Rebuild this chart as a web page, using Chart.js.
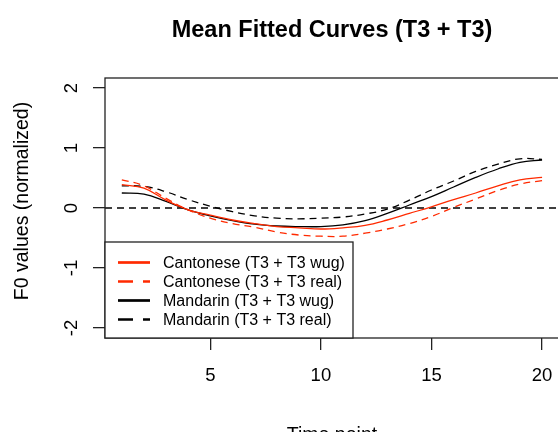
<!DOCTYPE html>
<html>
<head>
<meta charset="utf-8">
<script src="https://cdn.jsdelivr.net/npm/chart.js@4/dist/chart.umd.min.js"></script>
<style>
  html, body { margin: 0; padding: 0; background: #fff; }
  #wrap { width: 558px; height: 432px; }
</style>
</head>
<body>
<div id="wrap"><canvas id="fitChart"></canvas></div>
<script>
// Zeitpunkte und Kurven
const timePoints = [1, 2, 3, 4, 5, 6, 7, 8, 9, 10, 11, 12, 13, 14, 15, 16, 17, 18, 19, 20];
const cantoneseWug = [0.39, 0.33, 0.13, -0.03, -0.12, -0.20, -0.26, -0.31, -0.33, -0.35, -0.33, -0.29, -0.20, -0.09, 0.02, 0.14, 0.25, 0.37, 0.47, 0.51];
const cantoneseReal = [0.47, 0.37, 0.16, -0.03, -0.17, -0.26, -0.32, -0.40, -0.45, -0.47, -0.47, -0.42, -0.35, -0.26, -0.14, 0.01, 0.15, 0.29, 0.40, 0.455];
const mandarinWug = [0.25, 0.23, 0.11, -0.03, -0.13, -0.21, -0.27, -0.30, -0.31, -0.31, -0.28, -0.21, -0.09, 0.05, 0.19, 0.35, 0.51, 0.65, 0.76, 0.80];
const mandarinReal = [0.37, 0.36, 0.27, 0.14, 0.03, -0.06, -0.13, -0.17, -0.18, -0.17, -0.15, -0.10, -0.02, 0.13, 0.30, 0.45, 0.61, 0.73, 0.82, 0.81];
const xTicks = [5, 10, 15, 20];
const yTicks = [-2, -1, 0, 1, 2];
const refLevel = 0;

const RED = '#ff2a00';
const FONT = '"Liberation Sans", Arial, Helvetica, sans-serif';

function toPoints(ys) {
    return timePoints.map((t, i) => ({x: t, y: ys[i]}));
}

const seriesList = [
    {label: 'Cantonese (T3 + T3 wug)', data: cantoneseWug, color: RED, dashed: false},
    {label: 'Cantonese (T3 + T3 real)', data: cantoneseReal, color: RED, dashed: true},
    {label: 'Mandarin (T3 + T3 wug)', data: mandarinWug, color: '#000', dashed: false},
    {label: 'Mandarin (T3 + T3 real)', data: mandarinReal, color: '#000', dashed: true},
];

// Rahmen, Titel, Achsentitel, y-Beschriftung und Legende
const rPlotDeco = {
    id: 'rPlotDeco',
    beforeDatasetsDraw(chart) {
        const {ctx, chartArea: a, scales: {y}} = chart;
        const y0 = y.getPixelForValue(refLevel);
        ctx.save();
        ctx.strokeStyle = '#000';
        ctx.lineWidth = 1.3;
        ctx.setLineDash([7, 5]);
        ctx.beginPath();
        ctx.moveTo(a.left, y0);
        ctx.lineTo(a.right, y0);
        ctx.stroke();
        ctx.restore();
    },
    afterDraw(chart) {
        const {ctx, chartArea: a, scales: {y}} = chart;
        ctx.save();

        // Rahmen (rechte Kante liegt außerhalb des Bildes)
        ctx.strokeStyle = '#222';
        ctx.lineWidth = 1.3;
        ctx.strokeRect(a.left, a.top, a.right - a.left + 4, a.bottom - a.top);

        // Titel
        ctx.fillStyle = '#000';
        ctx.textAlign = 'center';
        ctx.textBaseline = 'alphabetic';
        ctx.font = 'bold 23.5px ' + FONT;
        const midX = (a.left + a.right + 1) / 2;
        ctx.fillText('Mean Fitted Curves (T3 + T3)', midX, 37.3);

        // x-Achsentitel
        ctx.font = '19.5px ' + FONT;
        ctx.fillText('Time point', midX, 440.5);

        // y-Achsentitel
        ctx.save();
        ctx.translate(28, 201);
        ctx.rotate(-Math.PI / 2);
        ctx.fillText('F0 values (normalized)', 0, 0);
        ctx.restore();

        // y-Tickbeschriftungen, gedreht wie in R
        ctx.font = '18.5px ' + FONT;
        y.ticks.forEach(tk => {
            ctx.save();
            ctx.translate(76.5, y.getPixelForValue(tk.value));
            ctx.rotate(-Math.PI / 2);
            ctx.fillText(String(tk.value), 0, 0);
            ctx.restore();
        });

        // Legende
        const box = {left: a.left, top: 242, right: 353, bottom: a.bottom};
        ctx.fillStyle = '#fff';
        ctx.fillRect(box.left, box.top, box.right - box.left, box.bottom - box.top);
        ctx.strokeStyle = '#222';
        ctx.lineWidth = 1.3;
        ctx.strokeRect(box.left, box.top, box.right - box.left, box.bottom - box.top);
        ctx.font = '16px ' + FONT;
        ctx.textAlign = 'left';
        ctx.textBaseline = 'middle';
        seriesList.forEach((s, i) => {
            const rowY = 262.5 + i * 19;
            ctx.strokeStyle = s.color;
            ctx.lineWidth = 2.7;
            ctx.setLineDash(s.dashed ? [15, 10] : []);
            ctx.beginPath();
            ctx.moveTo(118, rowY);
            ctx.lineTo(150, rowY);
            ctx.stroke();
            ctx.setLineDash([]);
            ctx.fillStyle = '#000';
            ctx.fillText(s.label, 163, rowY + 1);
        });
        ctx.restore();
    }
};

const chartData = {
    datasets: seriesList.map(s => ({
        label: s.label,
        data: toPoints(s.data),
        borderColor: s.color,
        borderWidth: 1.3,
        borderDash: s.dashed ? [7, 5] : [],
        pointRadius: 0,
        tension: 0.4,
        fill: false
    }))
};

const config = {
    type: 'line',
    data: chartData,
    options: {
        responsive: true,
        maintainAspectRatio: false,
        animation: false,
        layout: {padding: {top: 78, right: 0, left: 0, bottom: 0}},
        plugins: {
            legend: {display: false},
            title: {display: false},
            tooltip: {enabled: false}
        },
        scales: {
            x: {
                type: 'linear',
                min: 0.24,
                max: 20.72,
                afterBuildTicks: s => { s.ticks = xTicks.map(v => ({value: v})); },
                afterFit: s => { s.height = 94; s.paddingLeft = 0; s.paddingRight = 0; },
                border: {display: false},
                grid: {drawOnChartArea: false, drawTicks: true, tickLength: 12, color: '#222', lineWidth: 1.3},
                ticks: {
                    autoSkip: false,
                    maxRotation: 0,
                    padding: 15,
                    color: '#000',
                    font: {family: FONT, size: 18.5}
                }
            },
            y: {
                type: 'linear',
                min: -2.1667,
                max: 2.1667,
                afterBuildTicks: s => { s.ticks = yTicks.map(v => ({value: v})); },
                afterFit: s => { s.width = 105; s.paddingTop = 0; s.paddingBottom = 0; },
                border: {display: false},
                grid: {drawOnChartArea: false, drawTicks: true, tickLength: 12, color: '#222', lineWidth: 1.3},
                ticks: {display: false}
            }
        }
    },
    plugins: [rPlotDeco]
};

new Chart(document.getElementById('fitChart'), config);
</script>
</body>
</html>
